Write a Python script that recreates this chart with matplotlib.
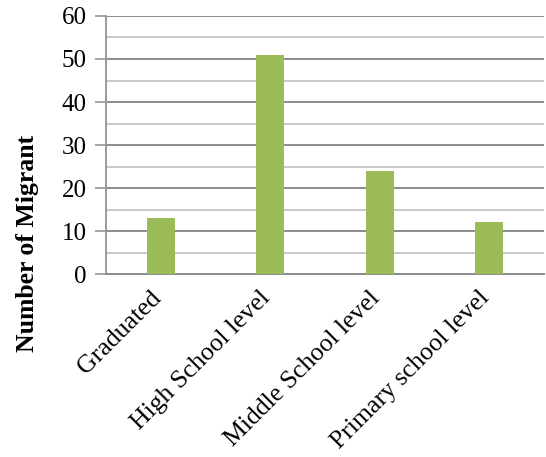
import matplotlib
matplotlib.use("Agg")
import matplotlib.pyplot as plt
import matplotlib.transforms as mtransforms
import numpy as np

categories = ["Graduated", "High School level", "Middle School level", "Primary school level"]
migrants = [13, 51, 24, 12]
y_ticks = [0, 10, 20, 30, 40, 50, 60]

plt.rcParams["font.family"] = ["Liberation Serif", "DejaVu Serif"]

fig = plt.figure(figsize=(5.46, 4.57), dpi=100)
ax = fig.add_axes([0.194, 0.4004, 0.802, 0.5646])

x = np.arange(len(categories))
ax.bar(x, migrants, width=0.256, color="#9BBB59", zorder=3)

ax.set_xlim(-0.5, len(categories) - 0.5)
ax.set_ylim(0, 60)
ax.set_yticks(y_ticks)
ax.set_yticks(np.arange(5, 60, 10), minor=True)

ax.grid(axis="y", which="major", color="#8C8C8C", linewidth=1.4, zorder=1)
ax.grid(axis="y", which="minor", color="#C8C8C8", linewidth=1.4, zorder=1)

for side in ["top", "right"]:
    ax.spines[side].set_visible(False)
ax.spines["left"].set_color("#9A9A9A")
ax.spines["left"].set_linewidth(1.4)
ax.spines["bottom"].set_color("#8C8C8C")
ax.spines["bottom"].set_linewidth(1.4)

ax.tick_params(axis="y", which="major", length=8, width=1.1, color="#8C8C8C",
               labelsize=18, pad=6)
ax.tick_params(axis="y", which="minor", length=0)
ax.tick_params(axis="x", length=0, labelsize=18.5, pad=15)

ax.set_xticks(x)
ax.set_xticklabels(categories, rotation=45, ha="right", va="center",
                   rotation_mode="anchor")
shift = mtransforms.ScaledTranslation(-3 / 100, 0, fig.dpi_scale_trans)
for lbl in ax.get_xticklabels():
    lbl.set_transform(lbl.get_transform() + shift)

fig.text(0.05, 1 - 243 / 457, "Number of Migrant", rotation=90, ha="center",
         va="center", fontsize=18.5, fontweight="bold")

fig.savefig("out.png", dpi=100)
